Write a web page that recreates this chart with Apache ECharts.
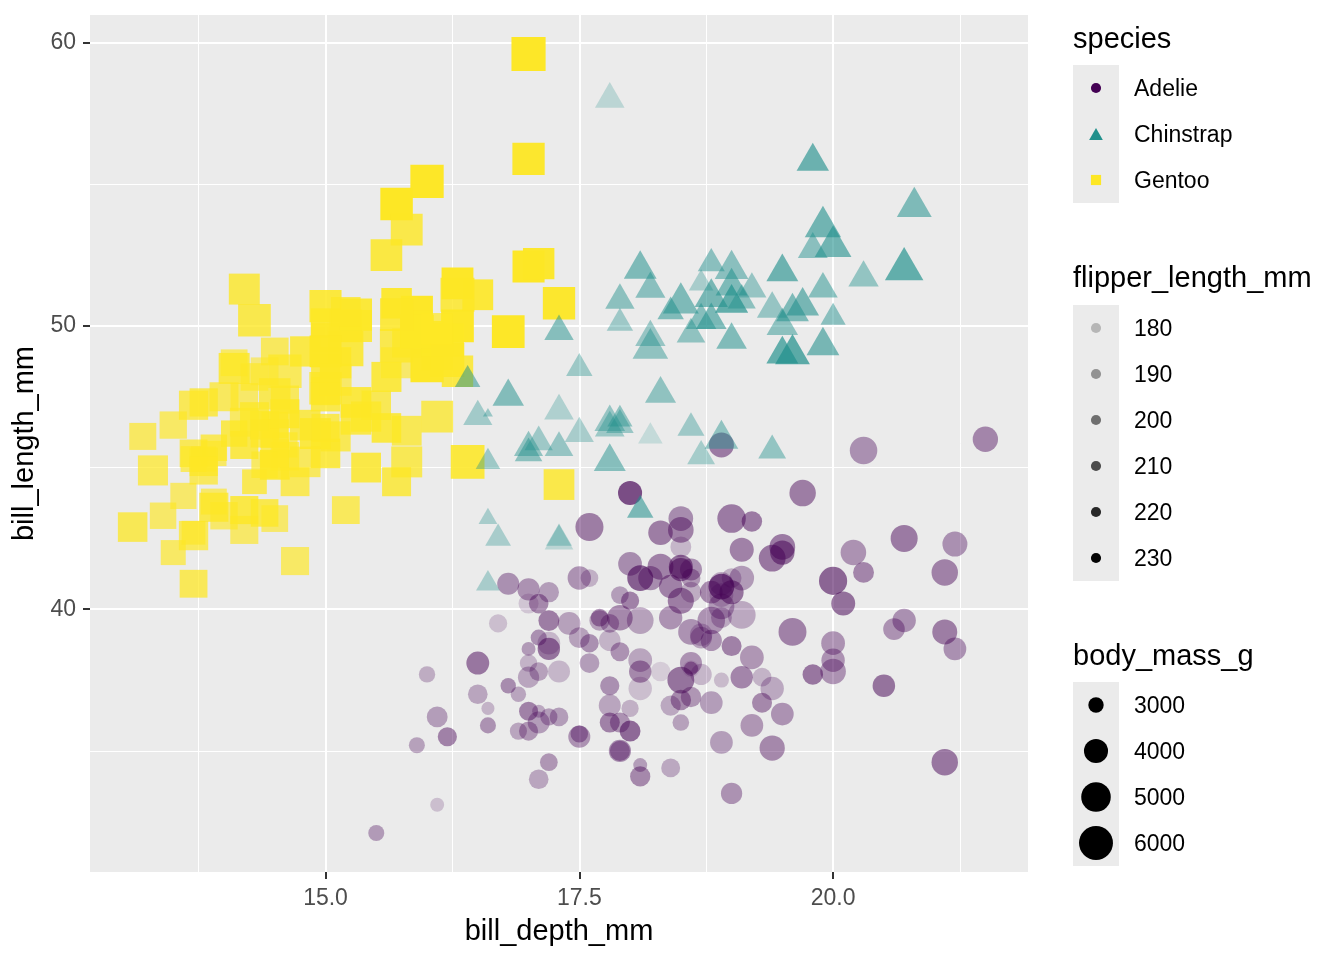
<!DOCTYPE html>
<html>
<head>
<meta charset="utf-8">
<script src="https://cdn.jsdelivr.net/npm/echarts@6/dist/echarts.min.js"></script>
<style>
  html, body { margin: 0; padding: 0; background: #fff; }
  #chart { width: 1344px; height: 960px; }
</style>
</head>
<body>
<div id="chart"></div>
<script>
// rows: [bill_depth_mm, bill_length_mm, flipper_length_mm, body_mass_g]
const adelie = [
  [18.7,39.1,181,3750],[17.4,39.5,186,3800],[18.0,40.3,195,3250],[19.3,36.7,193,3450],[20.6,39.3,190,3650],[17.8,38.9,181,3625],[19.6,39.2,195,4675],[18.1,34.1,193,3475],[20.2,42.0,190,4250],[17.1,37.8,186,3300],
  [17.3,37.8,180,3700],[17.6,41.1,182,3200],[21.2,38.6,191,3800],[21.1,34.6,198,4400],[17.8,36.6,185,3700],[19.0,38.7,195,3450],[20.7,42.5,197,4500],[18.4,34.4,184,3325],[21.5,46.0,194,4200],
  [18.3,37.8,174,3400],[18.7,37.7,180,3600],[19.2,35.9,189,3800],[18.1,38.2,185,3950],[17.2,38.8,180,3800],[18.9,35.3,187,3800],[18.6,40.6,183,3550],[17.9,40.5,187,3200],[18.6,37.9,172,3150],[18.9,40.5,180,3950],
  [16.7,39.5,178,3250],[18.1,37.2,178,3900],[17.8,39.5,188,3300],[18.9,40.9,184,3900],[17.0,36.4,195,3325],[21.1,39.2,196,4150],[20.0,38.8,190,3950],[18.5,42.2,180,3550],[19.3,37.6,181,3300],[19.1,39.8,184,4650],
  [18.0,36.5,182,3150],[18.4,40.8,195,3900],[18.5,36.0,186,3100],[19.7,44.1,196,4400],[16.9,37.0,185,3000],[18.8,39.6,190,4600],[19.0,41.1,182,3425],[18.9,37.5,179,2975],[17.9,36.0,190,3450],[21.2,42.3,191,4150],
  [17.7,39.6,186,3500],[18.9,40.1,188,4300],[17.9,35.0,190,3450],[19.5,42.0,200,4050],[18.1,34.5,187,2900],[18.6,41.4,191,3700],[17.5,39.0,186,3550],[18.8,40.6,193,3800],[16.6,36.5,181,2850],[19.1,37.6,194,3750],
  [16.9,35.7,185,3150],[21.1,41.3,195,4400],[17.0,37.6,185,3600],[18.2,41.1,192,4050],[17.1,36.4,184,2850],[18.0,41.6,192,3950],[16.2,35.5,195,3350],[19.1,41.1,188,4100],
  [16.6,35.9,190,3050],[19.4,41.8,198,4450],[19.0,33.5,190,3600],[18.4,39.7,190,3900],[17.2,39.6,196,3550],[18.9,45.8,197,4150],[17.5,35.5,190,3700],[18.5,42.8,195,4250],[16.8,40.9,191,3700],[19.4,37.2,184,3900],
  [16.1,36.2,187,3550],[19.1,42.1,195,4000],[17.2,34.6,189,3200],[17.6,42.9,196,4700],[18.8,36.7,187,3800],[19.4,35.1,193,4200],
  [17.8,37.3,191,3350],[20.3,41.3,194,3550],[19.5,36.3,190,3800],[18.6,36.9,189,3500],[19.2,38.3,189,3950],[18.8,38.9,190,3600],[18.0,35.7,202,3550],[18.1,41.1,205,4300],[17.1,34.0,185,3400],[18.1,39.6,186,4450],
  [17.3,36.2,187,3300],[18.9,40.8,208,4300],[18.6,38.1,190,3700],[18.5,40.3,196,4350],[16.1,33.1,178,2900],[18.5,43.2,192,4100],
  [17.9,35.0,192,3725],[20.0,41.0,203,4725],[16.0,37.7,183,3075],[20.0,37.8,190,4250],[18.6,37.9,193,2925],[18.9,39.7,184,3550],[17.2,38.6,199,3750],[20.0,38.2,190,3900],[17.0,38.1,181,3175],[19.0,43.2,197,4775],
  [16.5,38.1,198,3825],[20.3,45.6,191,4600],[17.7,39.7,193,3200],[19.5,42.2,197,4275],[20.7,39.6,191,3900],[18.3,42.7,196,4075],
  [17.0,38.6,188,2900],[20.5,37.3,199,3775],[17.0,35.7,189,3350],[18.6,41.1,189,3325],[17.2,36.2,187,3150],[19.8,37.7,198,3500],[17.0,40.2,176,3450],[18.5,41.4,202,3875],[15.9,35.2,186,3050],[19.0,40.6,199,4000],
  [17.6,38.8,191,3275],[18.3,41.5,195,4300],[17.1,39.0,191,3050],[18.0,44.1,210,4000],[17.9,38.5,190,3325],[19.2,43.1,197,3500],
  [18.5,36.8,193,3500],[18.5,37.5,199,4475],[17.6,38.1,187,3425],[17.5,41.1,190,3900],[17.5,35.6,191,3175],[20.1,40.2,200,3975],[16.5,37.0,185,3400],[17.9,39.7,193,4250],[17.1,40.2,193,3400],[17.2,40.6,187,3475],
  [15.5,32.1,188,3050],[17.0,40.7,190,3725],[16.8,37.3,192,3000],[18.7,39.0,185,3650],[18.6,39.2,190,4250],[18.4,36.6,184,3475],[17.8,36.0,195,3450],[18.1,37.8,193,3750],[17.1,36.0,187,3700],[18.5,41.5,201,4000]
];
const gentoo = [
  [13.2,46.1,211,4500],[16.3,50.0,230,5700],[14.1,48.7,210,4450],[15.2,50.0,218,5700],[14.5,47.6,215,5400],[13.5,46.5,210,4550],[14.6,45.4,211,4800],[15.3,46.7,219,5200],[13.4,43.3,209,4400],[15.4,46.8,215,5150],
  [13.7,40.9,214,4650],[16.1,49.0,216,5550],[13.7,45.5,214,4650],[14.6,48.4,213,5850],[14.6,45.8,210,4200],[15.7,49.3,217,5850],[13.5,42.0,210,4150],[15.2,49.2,221,6300],[14.5,46.2,209,4800],[15.1,48.7,222,5350],
  [14.3,50.2,218,5700],[14.5,45.1,215,5000],[14.5,46.5,213,4400],[15.8,46.3,215,5050],[13.1,42.9,215,5000],[15.1,46.1,215,5100],[14.3,44.5,216,4100],[15.0,47.8,215,5650],[14.3,48.2,210,4600],[15.3,50.0,220,5550],
  [15.3,47.3,222,5250],[14.2,42.8,209,4700],[14.5,45.1,207,5050],[17.0,59.6,230,6050],[14.8,49.1,220,5150],[16.3,48.4,220,5400],[13.7,42.6,213,4950],[17.3,44.4,219,5250],[13.6,44.0,208,4350],[15.7,48.7,208,5350],
  [13.7,42.7,208,3950],[16.0,49.6,225,5700],[13.7,45.3,210,4300],[15.0,49.6,216,4750],[15.9,50.5,222,5550],[13.9,43.6,217,4900],[13.9,45.5,210,4200],[15.9,50.5,225,5400],[13.3,44.9,213,5100],[15.8,45.2,215,5300],
  [14.2,46.6,210,4850],[14.1,48.5,220,5300],[14.4,45.1,210,4400],[15.0,50.1,225,5000],[14.4,46.5,217,4900],[15.4,45.0,220,5050],[13.9,43.8,208,4300],[15.0,45.5,220,5000],[14.5,43.2,208,4450],[15.3,50.4,224,5550],
  [13.8,45.3,208,4200],[14.9,46.2,221,5300],[13.9,45.7,214,4400],[15.7,54.3,231,5650],[14.2,45.8,219,4700],[16.8,49.8,230,5700],[14.4,46.2,214,4650],[16.2,49.5,229,5800],[14.2,43.5,220,4700],[15.0,50.7,223,5550],
  [15.0,47.7,216,4750],[15.6,46.4,221,5000],[15.6,48.2,221,5100],[14.8,46.5,217,5200],[15.0,46.4,216,4700],[16.0,48.6,230,5800],[14.2,47.5,209,4600],[16.3,51.1,220,6000],[13.8,45.2,215,4750],[16.4,45.2,223,5950],
  [14.5,49.1,212,4625],[15.6,52.5,221,5450],[14.6,47.4,212,4725],[15.9,50.0,224,5350],[13.8,44.9,212,4750],[17.3,50.8,228,5600],[14.4,43.4,218,4600],[14.2,51.3,218,5300],[14.0,47.5,212,4875],[17.0,52.1,230,5550],
  [15.0,47.5,218,4950],[17.1,52.2,228,5400],[14.5,45.5,212,4750],[16.1,49.5,224,5650],[14.7,44.5,214,4850],[15.7,50.8,226,5200],[15.8,49.4,216,4925],[14.6,46.9,222,4875],[14.4,48.4,203,4625],[16.5,51.1,225,5250],
  [15.0,48.5,219,4850],[17.0,55.9,228,5600],[15.5,47.2,215,4975],[15.0,49.1,228,5500],[13.8,47.3,216,4725],[16.1,46.8,215,5500],[14.7,41.7,210,4700],[15.8,53.4,219,5500],[14.0,43.3,208,4575],[15.1,48.1,209,5500],
  [15.2,50.5,216,5000],[15.9,49.8,229,5950],[15.2,43.5,213,4650],[16.3,51.5,230,5500],[14.1,46.2,217,4375],[16.0,55.1,230,5850],[15.7,44.5,217,4875],[16.2,48.8,222,6000],[13.7,47.2,214,4925],[14.3,46.8,215,4850],
  [15.7,50.4,222,5750],[14.8,45.2,212,5200],[16.1,49.9,213,5400]
];
const chinstrap = [
  [17.9,46.5,192,3500],[19.5,50.0,196,3900],[19.2,51.3,193,3650],[18.7,45.4,188,3525],[19.8,52.7,197,3725],[17.8,45.2,198,3950],[18.2,46.1,178,3250],[18.2,51.3,197,3750],[18.9,46.0,195,4150],[19.9,51.3,198,3700],
  [17.8,46.6,193,3800],[20.3,51.7,194,3775],[17.3,47.0,185,3700],[18.1,52.0,201,4050],[17.1,45.9,190,3575],[19.6,50.5,201,4050],[20.0,50.3,197,3300],[17.8,58.0,181,3700],[18.6,46.4,190,3450],[18.2,49.2,195,4400],
  [17.3,42.4,181,3600],[17.5,48.5,191,3400],[16.6,43.2,187,2900],[19.4,50.6,193,3800],[17.9,46.7,195,3300],[19.0,52.0,197,4150],[18.4,50.5,200,3400],[19.0,49.5,200,3800],[17.8,46.4,191,3700],[20.0,52.8,205,4550],
  [16.6,40.9,187,3200],[20.8,54.2,201,4300],[16.7,42.5,187,3350],[18.8,51.0,203,4100],[18.6,49.7,195,3600],[16.8,47.5,199,3900],[18.3,47.6,195,3850],[20.7,52.0,210,4800],[16.6,46.9,192,2700],[19.9,53.5,205,4500],
  [19.5,49.0,210,3950],[17.5,46.2,187,3650],[19.1,50.9,196,3550],[17.0,45.5,196,3500],[17.9,50.9,196,3675],[18.5,50.8,201,4450],[17.9,50.1,190,3400],[19.6,49.0,212,4300],[18.7,51.5,187,3250],[17.3,49.8,198,3675],
  [16.4,48.1,199,3325],[19.0,51.4,201,3950],[17.3,45.7,193,3600],[19.7,50.7,203,4050],[17.3,42.5,187,3350],[18.8,52.2,197,3450],[16.6,45.2,191,3250],[19.9,49.3,203,4050],[18.8,50.2,202,3800],[19.4,45.6,194,3525],
  [19.5,51.9,206,3950],[16.5,46.8,189,3650],[17.0,45.7,195,3650],[19.8,55.8,207,4000],[18.1,43.5,202,3400],[18.2,49.6,193,3775],[19.0,50.8,210,4100],[18.7,50.2,198,3775]
];

const speciesNames = ['Adelie', 'Chinstrap', 'Gentoo'];
const speciesColors = ['#440154', '#21908C', '#FDE725'];
const xBreaks = [15, 17.5, 20];
const xMinorBreaks = [13.75, 16.25, 18.75, 21.25];
const yBreaks = [40, 50, 60];
const yMinorBreaks = [35, 45, 55];
const flipperBreaks = [180, 190, 200, 210, 220, 230];
const massBreaks = [3000, 4000, 5000, 6000];

const FONT = '"Liberation Sans", Arial, sans-serif';
const all = adelie.concat(gentoo, chinstrap);
const col = i => all.map(r => r[i]);
const ext = a => [Math.min(...a), Math.max(...a)];
const [xLo, xHi] = ext(col(0));
const [yLo, yHi] = ext(col(1));
const [fLo, fHi] = ext(col(2));
const [mLo, mHi] = ext(col(3));
const xPad = (xHi - xLo) * 0.05, yPad = (yHi - yLo) * 0.05;

// ggplot-like scales
const PT = 2.6; // px per point
const alphaOf = f => 0.1 + 0.9 * (f - fLo) / (fHi - fLo);
const sizeOf = m => 1 + 5 * Math.sqrt(Math.max(0, m - mLo) / (mHi - mLo));
const fontPx = s => PT * (2.845 * s + 0.945);
const circleD = s => 0.75 * fontPx(s);
const squareD = s => 0.75 * fontPx(s);
const triWH = s => { const f = fontPx(s); return [1.01 * f, 0.875 * f]; };

const toData = rows => rows.map(r => ({ value: r, itemStyle: { opacity: alphaOf(r[2]) } }));

const chart = echarts.init(document.getElementById('chart'));

const gridLeft = 90, gridTop = 15, gridRight = 316, gridBottom = 88;
const axisText = { color: '#4D4D4D', fontSize: 23, fontFamily: FONT };
const nameText = { color: '#000', fontSize: 29, fontFamily: FONT };

// legend elements
const keyX = 1073, keyW = 46, keyH = 46, keyCx = keyX + keyW / 2, labX = 1134;
const graphics = [];
function title(text, y) {
  graphics.push({ type: 'text', style: { text, x: keyX, y, fill: '#000', font: '29px ' + FONT, textVerticalAlign: 'middle', verticalAlign: 'middle' } });
}
function keyBox(y0, n) {
  graphics.push({ type: 'rect', shape: { x: keyX, y: y0, width: keyW, height: keyH * n }, style: { fill: '#EBEBEB' } });
}
function label(text, cy) {
  graphics.push({ type: 'text', style: { text, x: labX, y: cy + 2, fill: '#000', font: '23px ' + FONT, textVerticalAlign: 'middle', verticalAlign: 'middle' } });
}

// species
title('species', 40);
keyBox(65, 3);
speciesNames.forEach((name, i) => {
  const cy = 65 + keyH * i + keyH / 2;
  const s = 1.5;
  if (i === 0) {
    graphics.push({ type: 'circle', shape: { cx: keyCx, cy, r: circleD(s) / 2 }, style: { fill: speciesColors[i] } });
  } else if (i === 1) {
    const [w, h] = triWH(s);
    const c = cy + h * 0.17;
    graphics.push({ type: 'polygon', shape: { points: [[keyCx, c - h * 0.667], [keyCx + w / 2, c + h * 0.333], [keyCx - w / 2, c + h * 0.333]] }, style: { fill: speciesColors[i] } });
  } else {
    const d = squareD(s);
    graphics.push({ type: 'rect', shape: { x: keyCx - d / 2, y: cy - d / 2, width: d, height: d }, style: { fill: speciesColors[i] } });
  }
  label(name, cy);
});

// flipper_length_mm
title('flipper_length_mm', 279);
keyBox(305, flipperBreaks.length);
flipperBreaks.forEach((f, i) => {
  const cy = 305 + keyH * i + keyH / 2;
  graphics.push({ type: 'circle', shape: { cx: keyCx, cy, r: circleD(1.5) / 2 }, style: { fill: '#000', opacity: alphaOf(f) } });
  label(String(f), cy);
});

// body_mass_g
title('body_mass_g', 657);
keyBox(682, massBreaks.length);
massBreaks.forEach((m, i) => {
  const cy = 682 + keyH * i + keyH / 2;
  graphics.push({ type: 'circle', shape: { cx: keyCx, cy, r: circleD(sizeOf(m)) / 2 }, style: { fill: '#000' } });
  label(String(m), cy);
});

const option = {
  animation: false,
  backgroundColor: '#fff',
  grid: {
    left: gridLeft, top: gridTop, right: gridRight, bottom: gridBottom,
    containLabel: false, outerBoundsMode: 'none',
    show: true, backgroundColor: '#EBEBEB', borderWidth: 0
  },
  xAxis: [
    {
      type: 'value', min: xLo - xPad, max: xHi + xPad, position: 'bottom',
      axisLine: { show: false },
      axisTick: { show: true, customValues: xBreaks, length: 7, lineStyle: { color: '#333333', width: 2 } },
      axisLabel: { customValues: xBreaks, formatter: v => v.toFixed(1), margin: 15, ...axisText },
      splitLine: { show: true, lineStyle: { color: '#FFFFFF', width: 2 } },
      name: 'bill_depth_mm', nameLocation: 'middle', nameGap: 45, nameTextStyle: nameText
    },
    {
      type: 'value', min: xLo - xPad, max: xHi + xPad, position: 'top',
      axisLine: { show: false },
      axisTick: { show: false, customValues: xMinorBreaks },
      axisLabel: { show: false, customValues: xMinorBreaks },
      splitLine: { show: true, lineStyle: { color: '#FFFFFF', width: 1 } }
    }
  ],
  yAxis: [
    {
      type: 'value', min: yLo - yPad, max: yHi + yPad, position: 'left',
      axisLine: { show: false },
      axisTick: { show: true, customValues: yBreaks, length: 7, lineStyle: { color: '#333333', width: 2 } },
      axisLabel: { customValues: yBreaks, formatter: v => String(v), margin: 14, ...axisText },
      splitLine: { show: true, lineStyle: { color: '#FFFFFF', width: 2 } },
      name: 'bill_length_mm', nameLocation: 'middle', nameGap: 48, nameRotate: 90, nameTextStyle: nameText
    },
    {
      type: 'value', min: yLo - yPad, max: yHi + yPad, position: 'right',
      axisLine: { show: false },
      axisTick: { show: false, customValues: yMinorBreaks },
      axisLabel: { show: false, customValues: yMinorBreaks },
      splitLine: { show: true, lineStyle: { color: '#FFFFFF', width: 1 } }
    }
  ],
  series: [
    {
      name: 'Adelie', type: 'scatter', xAxisIndex: 0, yAxisIndex: 0, silent: true,
      symbol: 'circle', symbolSize: v => circleD(sizeOf(v[3])),
      itemStyle: { color: speciesColors[0] }, data: toData(adelie)
    },
    {
      name: 'Gentoo', type: 'scatter', xAxisIndex: 0, yAxisIndex: 0, silent: true,
      symbol: 'rect', symbolSize: v => squareD(sizeOf(v[3])),
      itemStyle: { color: speciesColors[2] }, data: toData(gentoo)
    },
    {
      name: 'Chinstrap', type: 'scatter', xAxisIndex: 0, yAxisIndex: 0, silent: true,
      symbol: 'triangle', symbolSize: v => triWH(sizeOf(v[3])), symbolOffset: [0, '-17%'],
      itemStyle: { color: speciesColors[1] }, data: toData(chinstrap)
    }
  ],
  graphic: graphics
};

chart.setOption(option);
</script>
</body>
</html>
